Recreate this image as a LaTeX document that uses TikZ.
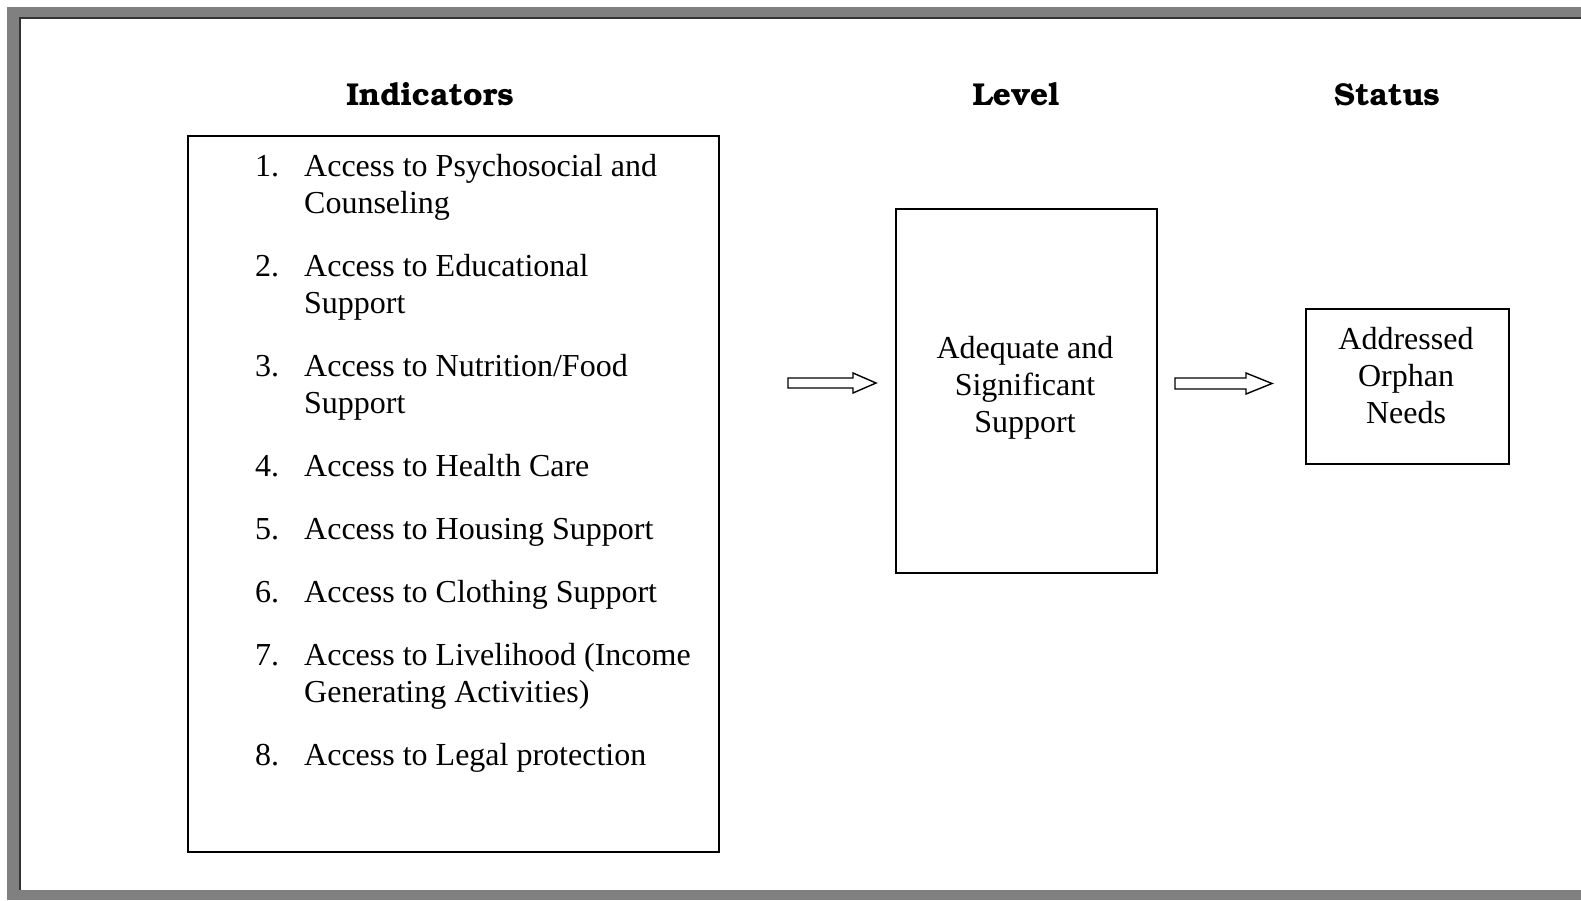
\documentclass[tikz,border=0pt]{standalone}
\usepackage[T1]{fontenc}
\usepackage{fontspec}
\setmainfont{Liberation Serif}
\usetikzlibrary{calc}
\newcommand\hdfont{\fontencoding{T1}\fontfamily{pbk}\fontseries{b}\fontshape{n}\fontsize{31.6}{36}\selectfont}
\begin{document}
\begin{tikzpicture}[x=1pt,y=-1pt,
  box/.style={draw=black, line width=1.7pt, inner sep=0pt, anchor=north west},
  txt/.style={inner sep=0pt, font=\fontsize{32}{37}\selectfont, anchor=base west},
  ctxt/.style={inner sep=0pt, font=\fontsize{32}{37}\selectfont, anchor=base},
  hd/.style={inner sep=0pt, font=\hdfont, anchor=base},
  blockarrow/.style={draw=black, line width=1.4pt, fill=white, line join=miter}]
\useasboundingbox (0,0) rectangle (1581,900);
\clip (0,0) rectangle (1581,900);
% frame
\fill[black!50] (7,7) rectangle (1581,900);
\fill[white] (21,19) rectangle (1581,890);
\draw[line width=2.5pt, black!80] (20,890) -- (20,18) -- (1581,18);

% headers
\node[hd] (hind) at (430,105) {Indicators};
\node[hd] (hlev) at (1016,105) {Level};
\node[hd] (hsta) at (1387,105) {Status};

% boxes
\node[box, minimum width=531pt, minimum height=716pt] (ind) at (187,135) {};
\node[box, minimum width=261pt, minimum height=364pt] (lev) at (895,208) {};
\node[box, minimum width=203pt, minimum height=155pt] (sta) at (1305,308) {};

% indicator items
\node[txt] (n1) at (255,176) {1.};
\node[txt] (t1) at (304,176) {Access to Psychosocial and};
\node[txt] (t1b) at (304,213) {Counseling};
\node[txt] (n2) at (255,276) {2.};
\node[txt] (t2) at (304,276) {Access to Educational};
\node[txt] (t2b) at (304,313) {Support};
\node[txt] (n3) at (255,376) {3.};
\node[txt] (t3) at (304,376) {Access to Nutrition/Food};
\node[txt] (t3b) at (304,413) {Support};
\node[txt] (n4) at (255,476) {4.};
\node[txt] (t4) at (304,476) {Access to Health Care};
\node[txt] (n5) at (255,539) {5.};
\node[txt] (t5) at (304,539) {Access to Housing Support};
\node[txt] (n6) at (255,602) {6.};
\node[txt] (t6) at (304,602) {Access to Clothing Support};
\node[txt] (n7) at (255,665) {7.};
\node[txt] (t7) at (304,665) {Access to Livelihood (Income};
\node[txt] (t7b) at (304,702) {Generating Activities)};
\node[txt] (n8) at (255,765) {8.};
\node[txt] (t8) at (304,765) {Access to Legal protection};

% level text
\node[ctxt] (l1) at (1025,358) {Adequate and};
\node[ctxt] (l2) at (1025,395) {Significant};
\node[ctxt] (l3) at (1025,432) {Support};

% status text
\node[ctxt] (s1) at (1406,349) {Addressed};
\node[ctxt] (s2) at (1406,386) {Orphan};
\node[ctxt] (s3) at (1406,423) {Needs};

% block arrows
\coordinate (a1s) at (788,383);
\coordinate (a1e) at (876,383);
\draw[blockarrow] ($(a1s)+(0,-5)$) -- ($(a1e)+(-23,-5)$) -- ($(a1e)+(-23,-10)$) -- (a1e)
  -- ($(a1e)+(-23,10)$) -- ($(a1e)+(-23,5)$) -- ($(a1s)+(0,5)$) -- cycle;
\coordinate (a2s) at (1175,383.5);
\coordinate (a2e) at (1272,383.5);
\draw[blockarrow] ($(a2s)+(0,-5.5)$) -- ($(a2e)+(-26,-5.5)$) -- ($(a2e)+(-26,-10.5)$) -- (a2e)
  -- ($(a2e)+(-26,10.5)$) -- ($(a2e)+(-26,5.5)$) -- ($(a2s)+(0,5.5)$) -- cycle;
\end{tikzpicture}
\end{document}
